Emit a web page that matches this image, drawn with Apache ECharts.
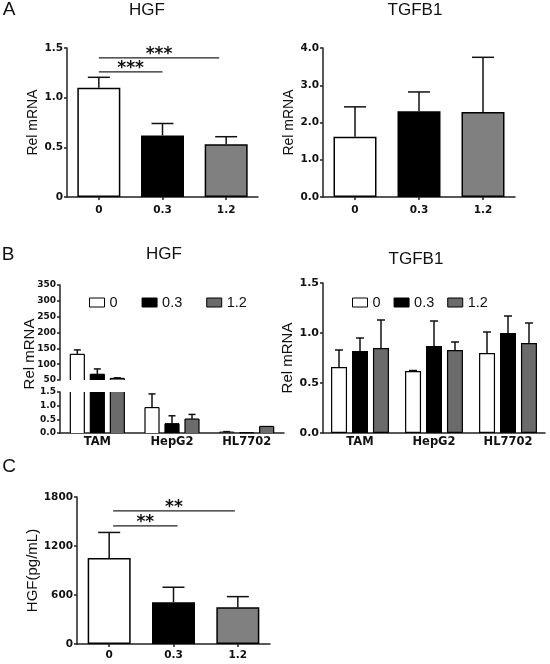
<!DOCTYPE html>
<html><head><meta charset="utf-8">
<script src="https://cdn.jsdelivr.net/npm/echarts@6/dist/echarts.min.js"></script>
<style>html,body{margin:0;padding:0;background:#fff}#c{width:550px;height:664px}</style>
</head><body><div id="c"></div><script>
// ---------- data ----------
const doseLabels = ['0', '0.3', '1.2'];
const cellLines = ['TAM', 'HepG2', 'HL7702'];

// Panel A
const aHgfMean = [1.10, 0.62, 0.53];
const aHgfErr = [0.105, 0.12, 0.077];
const aHgfSig = [[0, 1, 1.26, '***'], [0, 2, 1.40, '***']];
const aTgfMean = [1.62, 2.30, 2.28];
const aTgfErr = [0.80, 0.52, 1.47];

// Panel B (per dose, across TAM / HepG2 / HL7702)
const bHgf0 = [131, 0.93, 0.03];
const bHgf03 = [68, 0.34, 0.01];
const bHgf12 = [55, 0.51, 0.24];
const bHgf0Err = [14, 0.50, 0.02];
const bHgf03Err = [17, 0.29, 0];
const bHgf12Err = [2, 0.17, 0];

const bTgf0 = [0.66, 0.62, 0.80];
const bTgf03 = [0.82, 0.87, 1.00];
const bTgf12 = [0.85, 0.83, 0.90];
const bTgf0Err = [0.17, 0.005, 0.21];
const bTgf03Err = [0.13, 0.25, 0.17];
const bTgf12Err = [0.28, 0.08, 0.20];

// Panel C
const cHgfMean = [1052, 512, 451];
const cHgfErr = [314, 183, 129];
const cHgfSig = [[0, 1, 1446, '**'], [0, 2, 1629, '**']];

// ---------- style ----------
const fillsA = ['#ffffff', '#000000', '#808080'];
const fillsB = ['#ffffff', '#000000', '#6b6b6b'];
const AX = '#222';
const SANS = '"Liberation Sans", Arial, sans-serif';
const TICKF = '"DejaVu Sans", sans-serif';

const chart = echarts.init(document.getElementById('c'), null, {renderer: 'canvas'});

function yAxisDef(grid, min, max, interval, fmt, fontSize, name, nameGap, nameSize) {
  return {
    type: 'value', gridIndex: grid, min, max, interval,
    axisLine: {show: true, lineStyle: {color: AX, width: 1.5}},
    axisTick: {show: true, length: 3, lineStyle: {color: AX, width: 1.5}},
    splitLine: {show: false},
    axisLabel: {formatter: fmt, margin: 4, fontFamily: TICKF, fontWeight: 'bold', fontSize, color: '#111'},
    name: name || '', nameLocation: 'middle', nameGap: nameGap || 0,
    nameTextStyle: {fontFamily: SANS, fontSize: nameSize || 13, color: '#111'}
  };
}
function xAxisDef(grid, data, opts) {
  return Object.assign({
    type: 'category', gridIndex: grid, data,
    axisLine: {show: true, lineStyle: {color: AX, width: 1.5}},
    axisTick: {show: true, alignWithLabel: true, length: 3, lineStyle: {color: AX, width: 1.5}},
    axisLabel: {margin: 8, fontFamily: TICKF, fontWeight: 'bold', fontSize: 10.5, color: '#111'},
    splitLine: {show: false}
  }, opts || {});
}
function barSeriesSingle(xi, yi, means, fills, width) {
  return {
    type: 'bar', xAxisIndex: xi, yAxisIndex: yi, barWidth: width, silent: true,
    data: means.map((v, i) => ({value: v, itemStyle: {color: fills[i]}})),
    itemStyle: {borderColor: '#000', borderWidth: 1.5}
  };
}
function barSeriesDose(name, xi, yi, vals, color, width, gap) {
  return {
    type: 'bar', name, xAxisIndex: xi, yAxisIndex: yi, barWidth: width, barGap: gap, silent: true,
    data: vals, itemStyle: {color, borderColor: '#000', borderWidth: 1.2}
  };
}
// bars of the broken-axis panel: outline drawn only on the sides that are not cut by the break
function brokenBarSeries(name, xi, yi, vals, color, width, offset) {
  return {
    type: 'custom', name, xAxisIndex: xi, yAxisIndex: yi, z: 2, silent: true,
    itemStyle: {color, borderColor: '#000', borderWidth: 1},
    data: vals.map((v, i) => [i, v]),
    renderItem(params, api) {
      const c = api.value(0), v = api.value(1);
      const cs = params.coordSys;
      const pTop = api.coord([c, v]), pBase = api.coord([c, 0]);
      const x0 = pTop[0] + offset - width / 2, x1 = x0 + width;
      const yTop = Math.max(pTop[1], cs.y), yBot = Math.min(pBase[1], cs.y + cs.height);
      if (yTop >= yBot - 0.2) return null;
      const cutTop = pTop[1] < cs.y;
      const st = {stroke: '#000', lineWidth: 1.2, fill: null};
      const children = [
        {type: 'rect', shape: {x: x0, y: yTop, width: width, height: yBot - yTop}, style: {fill: color}},
        {type: 'line', shape: {x1: x0, y1: yTop, x2: x0, y2: yBot}, style: st},
        {type: 'line', shape: {x1: x1, y1: yTop, x2: x1, y2: yBot}, style: st}
      ];
      if (!cutTop) children.push({type: 'line', shape: {x1: x0, y1: yTop, x2: x1, y2: yTop}, style: st});
      return {type: 'group', children};
    }
  };
}
function errSeries(xi, yi, means, errs, offset, cap, lo, hi) {
  return {
    type: 'custom', xAxisIndex: xi, yAxisIndex: yi, z: 5, silent: true,
    data: means.map((m, i) => [i, m, errs[i]]),
    renderItem(params, api) {
      const c = api.value(0), m = api.value(1), e = api.value(2);
      if (!(e > 0)) return null;
      if (lo !== undefined && (m + e < lo || m > hi)) return null;
      const p0 = api.coord([c, m]), p1 = api.coord([c, m + e]);
      const x = p0[0] + offset;
      const st = {stroke: '#111', lineWidth: 1.5};
      return {type: 'group', children: [
        {type: 'line', shape: {x1: x, y1: p0[1], x2: x, y2: p1[1]}, style: st},
        {type: 'line', shape: {x1: x - cap / 2, y1: p1[1], x2: x + cap / 2, y2: p1[1]}, style: st}
      ]};
    }
  };
}
function sigSeries(xi, yi, sig, startShift, endTrim) {
  return {
    type: 'custom', xAxisIndex: xi, yAxisIndex: yi, z: 6, silent: true,
    data: sig.map(s => [s[0], s[1], s[2]]),
    renderItem(params, api) {
      const a = api.coord([api.value(0), api.value(2)]);
      const b = api.coord([api.value(1), api.value(2)]);
      const x1 = a[0] + startShift;
      const x2 = b[0] + (api.value(1) - api.value(0) > 1 ? -endTrim : startShift);
      return {type: 'group', children: [
        {type: 'line', shape: {x1: x1, y1: a[1], x2: x2, y2: a[1]}, style: {stroke: '#222', lineWidth: 1.3}},
        {type: 'text', x: (x1 + x2) / 2, y: a[1] - 3,
          style: {text: sig[params.dataIndex][3], fontFamily: TICKF, fontWeight: 'bold', fontSize: 17,
            fill: '#111', align: 'center', verticalAlign: 'middle'}}
      ]};
    }
  };
}
function txt(text, x, y, size, rot) {
  return {type: 'text', x, y, rotation: rot || 0, silent: true,
    style: {text, fontFamily: SANS, fontSize: size, fill: '#111', align: 'center', verticalAlign: 'middle'}};
}

const f1 = v => (v === 0 ? '0' : v.toFixed(1));
const f1all = v => v.toFixed(1);
const fInt = v => String(v);
const bLabel = {margin: 3, fontFamily: TICKF, fontWeight: 'bold', fontSize: 11.5, color: '#111'};

const option = {
  animation: false,
  backgroundColor: '#fff',
  grid: [
    {left: 67, top: 48, width: 191, height: 149},   // A HGF
    {left: 323, top: 48, width: 192, height: 149},  // A TGFB1
    {left: 60, top: 285, width: 224, height: 95},   // B HGF upper
    {left: 60, top: 392, width: 224, height: 41},   // B HGF lower
    {left: 323, top: 283, width: 222, height: 150}, // B TGFB1
    {left: 77, top: 497, width: 193, height: 147}   // C
  ],
  xAxis: [
    xAxisDef(0, doseLabels),
    xAxisDef(1, doseLabels),
    xAxisDef(2, cellLines, {show: false}),
    xAxisDef(3, cellLines, {axisTick: {show: false}, axisLabel: bLabel}),
    xAxisDef(4, cellLines, {axisTick: {show: false}, axisLabel: bLabel}),
    xAxisDef(5, doseLabels, {axisLabel: {margin: 6, fontFamily: TICKF, fontWeight: 'bold', fontSize: 10.5, color: '#111'}})
  ],
  yAxis: [
    yAxisDef(0, 0, 1.5, 0.5, f1, 10.5, 'Rel mRNA', 24, 14),
    yAxisDef(1, 0, 4, 1, f1all, 10.5, 'Rel mRNA', 22, 14),
    yAxisDef(2, 50, 350, 50, fInt, 9),
    yAxisDef(3, 0, 1.5, 0.5, f1all, 9),
    yAxisDef(4, 0, 1.5, 0.5, f1all, 11, 'Rel mRNA', 21, 15),
    yAxisDef(5, 0, 1800, 600, fInt, 10.5, 'HGF(pg/mL)', 35, 15)
  ],
  legend: [
    {left: 84, top: 290, itemWidth: 15, itemHeight: 9, itemGap: 24, icon: 'rect', selectedMode: false,
      textStyle: {fontFamily: SANS, fontSize: 14.5, color: '#111'},
      data: doseLabels.map((n, i) => ({name: n, itemStyle: {color: fillsB[i], borderColor: '#000', borderWidth: 1}}))},
    {left: 347, top: 290, itemWidth: 15, itemHeight: 9, itemGap: 13, icon: 'rect', selectedMode: false,
      textStyle: {fontFamily: SANS, fontSize: 14.5, color: '#111'},
      data: doseLabels.map((n, i) => ({name: n, itemStyle: {color: fillsB[i], borderColor: '#000', borderWidth: 1}}))}
  ],
  graphic: [
    txt('A', 9, 10, 19), txt('HGF', 147, 10, 17), txt('TGFB1', 415, 10, 17),
    txt('B', 8, 255, 19), txt('HGF', 164, 254, 17), txt('TGFB1', 416, 259, 17),
    txt('C', 9, 467, 19),
    txt('Rel mRNA', 30, 354, 15, Math.PI / 2)
  ],
  series: [
    // A
    barSeriesSingle(0, 0, aHgfMean, fillsA, 43),
    errSeries(0, 0, aHgfMean, aHgfErr, 0, 22),
    sigSeries(0, 0, aHgfSig, 0, 7),
    barSeriesSingle(1, 1, aTgfMean, fillsA, 43),
    errSeries(1, 1, aTgfMean, aTgfErr, 0, 22),
    // B HGF upper
    brokenBarSeries('0', 2, 2, bHgf0, fillsB[0], 14, -20),
    brokenBarSeries('0.3', 2, 2, bHgf03, fillsB[1], 14, 0),
    brokenBarSeries('1.2', 2, 2, bHgf12, fillsB[2], 14, 20),
    errSeries(2, 2, bHgf0, bHgf0Err, -20, 7, 50, 350),
    errSeries(2, 2, bHgf03, bHgf03Err, 0, 7, 50, 350),
    errSeries(2, 2, bHgf12, bHgf12Err, 20, 7, 50, 350),
    // B HGF lower
    brokenBarSeries('0', 3, 3, bHgf0, fillsB[0], 14, -20),
    brokenBarSeries('0.3', 3, 3, bHgf03, fillsB[1], 14, 0),
    brokenBarSeries('1.2', 3, 3, bHgf12, fillsB[2], 14, 20),
    errSeries(3, 3, bHgf0, bHgf0Err, -20, 7, 0, 1.5),
    errSeries(3, 3, bHgf03, bHgf03Err, 0, 7, 0, 1.5),
    errSeries(3, 3, bHgf12, bHgf12Err, 20, 7, 0, 1.5),
    // B TGFB1
    barSeriesDose('0', 4, 4, bTgf0, fillsB[0], 16, '31%'),
    barSeriesDose('0.3', 4, 4, bTgf03, fillsB[1], 16, '31%'),
    barSeriesDose('1.2', 4, 4, bTgf12, fillsB[2], 16, '31%'),
    errSeries(4, 4, bTgf0, bTgf0Err, -21, 8),
    errSeries(4, 4, bTgf03, bTgf03Err, 0, 8),
    errSeries(4, 4, bTgf12, bTgf12Err, 21, 8),
    // C
    barSeriesSingle(5, 5, cHgfMean, fillsA, 43),
    errSeries(5, 5, cHgfMean, cHgfErr, 0, 22),
    sigSeries(5, 5, cHgfSig, 4, 3)
  ]
};
chart.setOption(option);
</script></body></html>
